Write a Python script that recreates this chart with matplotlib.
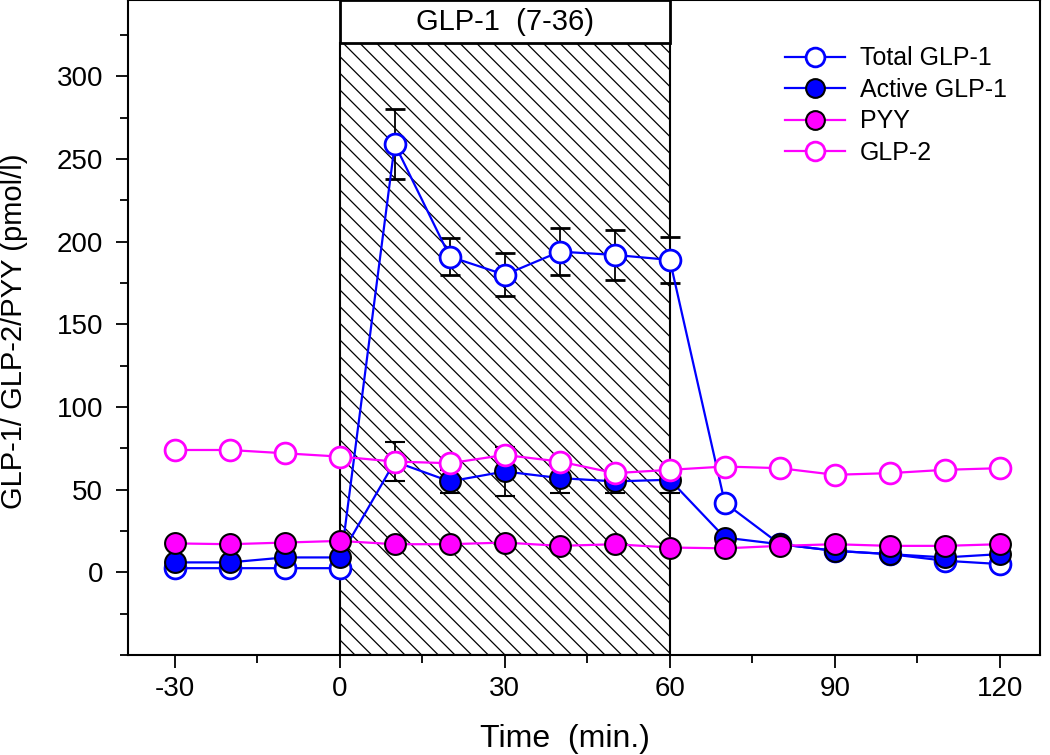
import matplotlib
matplotlib.use("Agg")
import matplotlib.pyplot as plt
from matplotlib.patches import Rectangle
from matplotlib.ticker import MultipleLocator

plt.rcParams["font.family"] = ["Liberation Sans", "DejaVu Sans"]
plt.rcParams["axes.unicode_minus"] = False
plt.rcParams["hatch.linewidth"] = 0.9

# sampling times (min)
time = [-30, -20, -10, 0, 10, 20, 30, 40, 50, 60, 70, 80, 90, 100, 110, 120]

total_glp1 = [2.5, 2.5, 2.5, 2.5, 259, 191, 180, 194, 192, 189, 42, 17, 13, 11, 7, 5]
total_err = [0, 0, 0, 0, 21, 11, 13, 14, 15, 14, 0, 0, 0, 0, 0, 0]

active_glp1 = [6, 6, 9, 9, 67, 55, 61, 57, 55, 56, 21, 17, 13, 11, 9, 11]
active_err = [0, 0, 0, 0, 12, 7, 15, 9, 7, 8, 0, 0, 0, 0, 0, 0]

pyy = [17.5, 17, 18, 19, 17, 17, 18, 16, 17, 15, 14.5, 16, 17, 16, 16, 17]
glp2 = [74, 74, 72, 70, 67, 66, 71, 67, 60, 62, 64, 63, 59, 60, 62, 63]

infusion_start, infusion_end = 0, 60
infusion_label = "GLP-1  (7-36)"

fig = plt.figure(figsize=(10.5, 7.55), dpi=100)
ax = fig.add_axes([0.1219, 0.1325, 0.8686, 0.867])

ymin, ymax = -50, 346
box_bottom = 320

# hatched infusion period and label box
ax.add_patch(Rectangle((infusion_start, ymin), infusion_end - infusion_start, box_bottom - ymin,
                       facecolor="white", edgecolor="black", hatch="\\\\", linewidth=1.5, zorder=0))
ax.add_patch(Rectangle((infusion_start, box_bottom), infusion_end - infusion_start, ymax - box_bottom,
                       facecolor="white", edgecolor="black", linewidth=2, zorder=0, clip_on=False))
ax.text((infusion_start + infusion_end) / 2, (box_bottom + ymax) / 2, infusion_label,
        ha="center", va="center", fontsize=21)

ms = 15
h_total = ax.errorbar(time, total_glp1, yerr=total_err, color="#0000FF", ecolor="black", elinewidth=1.3,
                      capsize=7, capthick=1.3, lw=1.6, marker="o", ms=ms, mfc="white", mec="#0000FF",
                      mew=2, zorder=2)
h_active = ax.errorbar(time, active_glp1, yerr=active_err, color="#0000FF", ecolor="black", elinewidth=1.3,
                       capsize=7, capthick=1.3, lw=1.6, marker="o", ms=ms, mfc="#0000FF", mec="black",
                       mew=1.5, zorder=3)
h_pyy, = ax.plot(time, pyy, color="#FF00FF", lw=1.6, marker="o", ms=ms, mfc="#FF00FF", mec="black",
                 mew=1.5, zorder=4)
h_glp2, = ax.plot(time, glp2, color="#FF00FF", lw=1.6, marker="o", ms=ms, mfc="white", mec="#FF00FF",
                  mew=2, zorder=5)

ax.set_xlim(-38.5, 127.3)
ax.set_ylim(ymin, ymax)
ax.set_xticks([-30, 0, 30, 60, 90, 120])
ax.xaxis.set_minor_locator(MultipleLocator(15))
ax.set_yticks([0, 50, 100, 150, 200, 250, 300])
ax.yaxis.set_minor_locator(MultipleLocator(25))
ax.tick_params(which="major", direction="out", length=9, width=1.3)
ax.tick_params(which="minor", direction="out", length=6, width=1.3)
ax.tick_params(axis="y", labelsize=20, pad=9)
ax.tick_params(axis="x", labelsize=20, pad=6)
for s in ax.spines.values():
    s.set_linewidth(1.5)

ax.set_xlabel("Time  (min.)", fontsize=23)
ax.xaxis.set_label_coords(0.479, -0.105)
ax.set_ylabel("GLP-1/ GLP-2/PYY (pmol/l)", fontsize=21)
ax.yaxis.set_label_coords(-0.11, 0.494)

ax.legend([h_total[0], h_active[0], h_pyy, h_glp2],
          ["Total GLP-1", "Active GLP-1", "PYY", "GLP-2"],
          loc="upper left", bbox_to_anchor=(0.709, 0.945), borderaxespad=0, frameon=False,
          fontsize=18, handlelength=2.4, labelspacing=0.3, handletextpad=0.6, markerscale=0.9)

fig.savefig("out.png", dpi=100)
